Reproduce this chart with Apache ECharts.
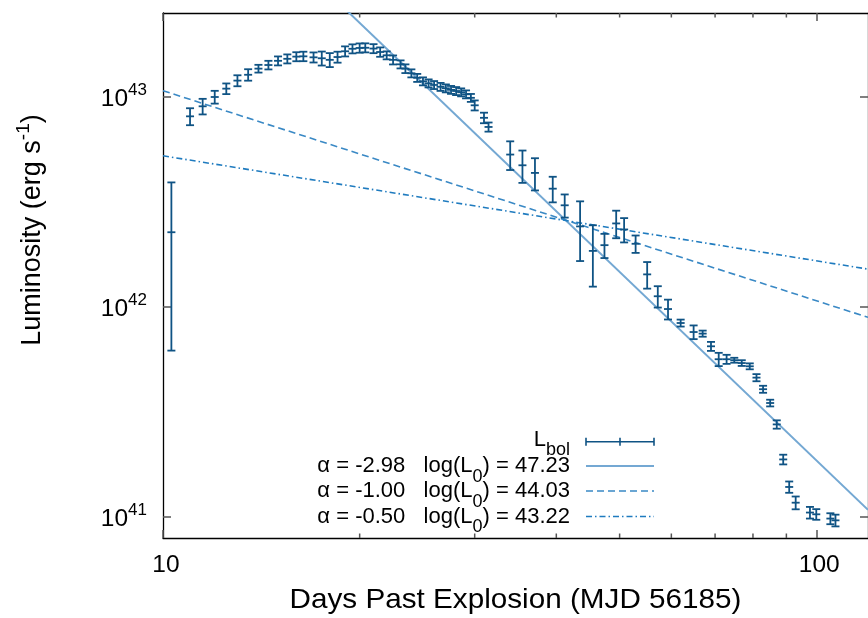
<!DOCTYPE html>
<html><head><meta charset="utf-8">
<script src="https://cdn.jsdelivr.net/npm/echarts@6/dist/echarts.min.js"></script>
<style>html,body{margin:0;padding:0;background:#fff}#c{width:868px;height:618px}</style>
</head><body><div id="c"></div>
<script>
// ---- data ----
var days = [10.3, 11.0, 11.5, 12.0, 12.5, 13.0, 13.5, 14.0, 14.5, 15.0,
  15.5, 16.0, 16.4, 17.0, 17.5, 18.0, 18.5, 19.0, 19.5, 20.0,
  20.4, 21.0, 21.5, 22.0, 22.5, 23.1, 23.5, 24.0, 24.5, 25.0,
  25.5, 26.0, 26.6, 27.1, 27.6, 28.1, 28.6, 29.1, 29.6, 30.0,
  31.0, 31.5, 34.0, 35.5, 37.1, 39.5, 41.2, 43.5, 45.5, 47.4,
  49.4, 50.8, 52.9, 55.1, 57.2, 59.3, 62.0, 64.9, 67.0, 69.0,
  70.9, 72.9, 74.9, 76.9, 79.1, 81.0, 82.9, 85.0, 87.0, 89.0,
  90.9, 93.0, 97.8, 100.0, 105.1, 107.0];
var lum = [2.27e42, 8.09e42, 9.03e42, 1.00e43, 1.096e43, 1.197e43, 1.276e43, 1.365e43, 1.420e43, 1.487e43,
  1.520e43, 1.557e43, 1.562e43, 1.545e43, 1.529e43, 1.503e43, 1.550e43, 1.651e43, 1.697e43, 1.712e43,
  1.716e43, 1.701e43, 1.638e43, 1.580e43, 1.503e43, 1.431e43, 1.365e43, 1.297e43, 1.234e43, 1.188e43,
  1.162e43, 1.141e43, 1.118e43, 1.100e43, 1.082e43, 1.068e43, 1.053e43, 1.030e43, 9.91e42, 9.13e42,
  7.96e42, 7.20e42, 5.32e42, 4.73e42, 4.35e42, 3.66e42, 3.05e42, 2.42e42, 1.85e42, 1.97e42,
  2.50e42, 2.34e42, 2.00e42, 1.43e42, 1.125e42, 9.78e41, 8.39e41, 7.60e41, 7.47e41, 6.50e41,
  5.64e41, 5.64e41, 5.58e41, 5.41e41, 5.22e41, 4.61e41, 4.06e41, 3.49e41, 2.76e41, 1.88e41,
  1.39e41, 1.17e41, 1.05e41, 1.03e41, 9.83e40, 9.64e40];
var lumErr = [1.65e42, 7.5e41, 7.7e41, 7.0e41, 6.4e41, 7.2e41, 8.0e41, 5.8e41, 6.7e41, 7.3e41,
  7.5e41, 7.7e41, 8.1e41, 8.5e41, 1.17e42, 1.15e42, 9.3e41, 9.1e41, 8.4e41, 8.7e41,
  8.5e41, 8.4e41, 8.4e41, 6.9e41, 7.4e41, 6.3e41, 6.5e41, 5.7e41, 5.4e41, 5.2e41,
  5.1e41, 5.0e41, 4.9e41, 4.8e41, 4.7e41, 4.7e41, 4.6e41, 4.5e41, 4.3e41, 5.0e41,
  4.6e41, 3.6e41, 8.3e41, 8.3e41, 7.6e41, 5.1e41, 3.85e41, 7.65e41, 6.0e41, 2.6e41,
  3.75e41, 3.1e41, 1.9e41, 2.07e41, 1.31e41, 1.06e41, 3.2e40, 5.7e40, 2.5e40, 3.2e40,
  4.1e40, 2.8e40, 1.5e40, 1.7e40, 1.7e40, 1.8e40, 1.56e40, 1.28e40, 1.26e40, 1.0e40,
  8.6e39, 8.2e39, 6.7e39, 6.0e39, 5.9e39, 6.2e39];

// power-law fits L = L0 * t^alpha (parameters from the legend)
var fitAlpha = [-2.98, -1.00, -0.50];
var fitLogL0 = [47.23, 44.03, 43.22];
var fitLabels = ['-2.98', '-1.00', '-0.50'];
var fitLogL0Labels = ['47.23', '44.03', '43.22'];

var xMajorTicks = [10, 100];
var xMinorTicks = [20, 30, 40, 50, 60, 70, 80, 90];
var yMajorTicks = [1e41, 1e42, 1e43];
var xRange = [10, 120];
var yRange = [Math.pow(10, 40.9), Math.pow(10, 43.4)];

// ---- chart ----
var FONT = '"Liberation Sans", Arial, Helvetica, sans-serif';
var barColor = '#0f5384';
var fitColors = ['#74a8d3', '#3a89c5', '#1f7bbf'];
var fitDash = [null, [7, 4], [6, 3, 1.5, 3]];
var fitWidth = [2, 1.6, 1.6];

function fitLine(i) {
  return xRange.map(function (t) {
    return [t, Math.pow(10, fitLogL0[i] + fitAlpha[i] * Math.log10(t))];
  });
}

var barData = days.map(function (d, i) { return [d, lum[i], lumErr[i]]; });

var axisLineStyle = { color: '#000', width: 1.3 };
var tickStyle = { color: '#555', width: 1.5 };

function xAx(pos, showLabel) {
  return {
    type: 'log', min: xRange[0], max: xRange[1], position: pos, logBase: 10,
    axisLine: { show: true, onZero: false, lineStyle: axisLineStyle },
    axisTick: { show: true, inside: true, length: 8, customValues: xMajorTicks, lineStyle: tickStyle },
    axisLabel: {
      show: showLabel, customValues: xMajorTicks, margin: 15, fontSize: 24.5, color: '#000', fontFamily: FONT,
      padding: [0, 0, 0, 6],
      formatter: function (v) { return String(Math.round(v)); }
    },
    splitLine: { show: false }, minorTick: { show: false }
  };
}
function yAx(pos, showLabel) {
  return {
    type: 'log', min: yRange[0], max: yRange[1], position: pos, logBase: 10,
    axisLine: { show: true, onZero: false, lineStyle: axisLineStyle },
    axisTick: { show: true, inside: true, length: 8, customValues: yMajorTicks, lineStyle: tickStyle },
    axisLabel: {
      show: showLabel, customValues: yMajorTicks, margin: 16, color: '#000', fontFamily: FONT,
      formatter: function (v) { return '{b|10}{s|' + Math.round(Math.log10(v)) + '}'; },
      rich: {
        b: { fontSize: 24.5, fontFamily: FONT, color: '#000', padding: [4, 0, 0, 0] },
        s: { fontSize: 17, fontFamily: FONT, color: '#000', padding: [0, 0, 14, 0] }
      }
    },
    splitLine: { show: false }, minorTick: { show: false }
  };
}

var series = [];
// minor ticks of the log x axis (bottom and top), placed through the axis scale
series.push({
  type: 'custom', name: 'xMinorTicks', xAxisIndex: 0, yAxisIndex: 0, clip: false, silent: true, z: 1,
  data: xMinorTicks.map(function (t) { return [t, yRange[0]]; }),
  encode: { x: 0, y: 1 },
  renderItem: function (params, api) {
    var b = api.coord([api.value(0), yRange[0]]);
    var t = api.coord([api.value(0), yRange[1]]);
    var st = { stroke: '#555', lineWidth: 1.5 };
    return {
      type: 'group', children: [
        { type: 'line', shape: { x1: b[0], y1: b[1], x2: b[0], y2: b[1] - 4.5 }, style: st },
        { type: 'line', shape: { x1: t[0], y1: t[1], x2: t[0], y2: t[1] + 4.5 }, style: st }
      ]
    };
  }
});
fitAlpha.forEach(function (a, i) {
  series.push({
    type: 'line', name: 'fit' + i, data: fitLine(i), xAxisIndex: 0, yAxisIndex: 0,
    showSymbol: false, symbol: 'none', clip: true, silent: true, z: 2,
    lineStyle: { color: fitColors[i], width: fitWidth[i], type: fitDash[i] || 'solid' }
  });
});
series.push({
  type: 'custom', name: 'L_bol', data: barData, xAxisIndex: 0, yAxisIndex: 0, clip: true, z: 3,
  encode: { x: 0, y: 1 },
  renderItem: function (params, api) {
    var x = api.value(0), y = api.value(1), e = api.value(2);
    var c = api.coord([x, y]);
    var hi = api.coord([x, y + e]);
    var lo = api.coord([x, y - e]);
    var w = 4;
    var st = { stroke: barColor, lineWidth: 1.8, fill: null };
    return {
      type: 'group', children: [
        { type: 'line', shape: { x1: c[0], y1: hi[1], x2: c[0], y2: lo[1] }, style: st },
        { type: 'line', shape: { x1: c[0] - w, y1: hi[1], x2: c[0] + w, y2: hi[1] }, style: st },
        { type: 'line', shape: { x1: c[0] - w, y1: lo[1], x2: c[0] + w, y2: lo[1] }, style: st },
        { type: 'line', shape: { x1: c[0] - w, y1: c[1], x2: c[0] + w, y2: c[1] }, style: st }
      ]
    };
  }
});

// legend (gnuplot style: right-aligned text, sample to the right)
var legX = 570, sx1 = 586, sx2 = 654;
var rowY = [441.7, 466, 491, 516.5];
var textY = [439.5, 466, 491, 516.5];
var legRich = {
  m: { fontSize: 22, fontFamily: FONT, color: '#000' },
  sub: { fontSize: 18, fontFamily: FONT, color: '#000', padding: [22, 0, 0, 0] }
};
var graphics = [];
graphics.push({
  type: 'text', x: legX, y: textY[0],
  style: { text: '{m|L}{sub|bol}', rich: legRich, align: 'right', verticalAlign: 'middle' }
});
var bs = { stroke: barColor, lineWidth: 1.6 };
graphics.push({ type: 'line', shape: { x1: sx1, y1: rowY[0], x2: sx2, y2: rowY[0] }, style: bs });
graphics.push({ type: 'line', shape: { x1: sx1, y1: rowY[0] - 4, x2: sx1, y2: rowY[0] + 4 }, style: bs });
graphics.push({ type: 'line', shape: { x1: sx2, y1: rowY[0] - 4, x2: sx2, y2: rowY[0] + 4 }, style: bs });
graphics.push({ type: 'line', shape: { x1: (sx1 + sx2) / 2, y1: rowY[0] - 4, x2: (sx1 + sx2) / 2, y2: rowY[0] + 4 }, style: bs });
fitAlpha.forEach(function (a, i) {
  graphics.push({
    type: 'text', x: legX, y: textY[i + 1],
    style: {
      text: '{m|\u03b1 = ' + fitLabels[i] + '   log(L}{sub|0}{m|) = ' + fitLogL0Labels[i] + '}',
      rich: legRich, align: 'right', verticalAlign: 'middle'
    }
  });
  graphics.push({
    type: 'line', shape: { x1: sx1, y1: rowY[i + 1], x2: sx2, y2: rowY[i + 1] },
    style: { stroke: fitColors[i], lineWidth: fitWidth[i], lineDash: fitDash[i] || null }
  });
});
// axis titles
graphics.push({
  type: 'text', x: 515.5, y: 600, scaleX: 1.06,
  style: { text: 'Days Past Explosion (MJD 56185)', fontSize: 28, fontFamily: FONT, fill: '#000', align: 'center', verticalAlign: 'middle' }
});
graphics.push({
  type: 'text', x: 33, y: 230, rotation: Math.PI / 2,
  style: {
    text: '{m|Luminosity (erg s}{s|-1}{m|)}', align: 'center', verticalAlign: 'middle',
    rich: {
      m: { fontSize: 27, fontFamily: FONT, color: '#000' },
      s: { fontSize: 19, fontFamily: FONT, color: '#000', padding: [0, 0, 18, 0] }
    }
  }
});

var chart = echarts.init(document.getElementById('c'), null, { renderer: 'canvas' });
chart.setOption({
  animation: false,
  backgroundColor: '#fff',
  grid: { left: 163, top: 13, right: -3, bottom: 80, containLabel: false },
  xAxis: [xAx('bottom', true), xAx('top', false)],
  yAxis: [yAx('left', true), yAx('right', false)],
  series: series,
  graphic: graphics
});
</script></body></html>
